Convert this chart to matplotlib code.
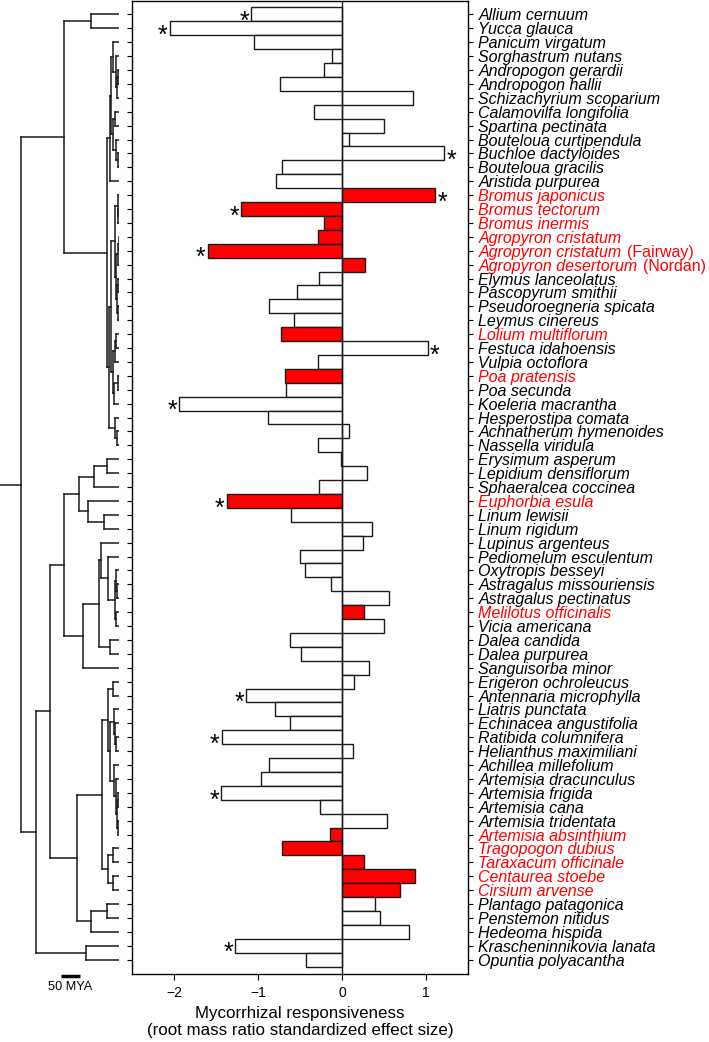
import numpy as np
import matplotlib
matplotlib.use("Agg")
import matplotlib.pyplot as plt

plt.rcParams['font.family'] = ['Liberation Sans', 'DejaVu Sans']

# species, top to bottom
species = [
    "Allium cernuum", "Yucca glauca", "Panicum virgatum", "Sorghastrum nutans",
    "Andropogon gerardii", "Andropogon hallii", "Schizachyrium scoparium",
    "Calamovilfa longifolia", "Spartina pectinata", "Bouteloua curtipendula",
    "Buchloe dactyloides", "Bouteloua gracilis", "Aristida purpurea",
    "Bromus japonicus", "Bromus tectorum", "Bromus inermis", "Agropyron cristatum",
    "Agropyron cristatum", "Agropyron desertorum",
    "Elymus lanceolatus", "Pascopyrum smithii", "Pseudoroegneria spicata",
    "Leymus cinereus", "Lolium multiflorum", "Festuca idahoensis", "Vulpia octoflora",
    "Poa pratensis", "Poa secunda", "Koeleria macrantha", "Hesperostipa comata",
    "Achnatherum hymenoides", "Nassella viridula", "Erysimum asperum",
    "Lepidium densiflorum", "Sphaeralcea coccinea", "Euphorbia esula",
    "Linum lewisii", "Linum rigidum", "Lupinus argenteus", "Pediomelum esculentum",
    "Oxytropis besseyi", "Astragalus missouriensis", "Astragalus pectinatus",
    "Melilotus officinalis", "Vicia americana", "Dalea candida", "Dalea purpurea",
    "Sanguisorba minor", "Erigeron ochroleucus", "Antennaria microphylla",
    "Liatris punctata", "Echinacea angustifolia", "Ratibida columnifera",
    "Helianthus maximiliani", "Achillea millefolium", "Artemisia dracunculus",
    "Artemisia frigida", "Artemisia cana", "Artemisia tridentata",
    "Artemisia absinthium", "Tragopogon dubius", "Taraxacum officinale",
    "Centaurea stoebe", "Cirsium arvense", "Plantago patagonica",
    "Penstemon nitidus", "Hedeoma hispida", "Krascheninnikovia lanata",
    "Opuntia polyacantha",
]
# cultivar names written upright after the species name
cultivars = {17: "(Fairway)", 18: "(Nordan)"}

# mycorrhizal responsiveness (standardized effect size)
responsiveness = [
    -1.08, -2.05, -1.05, -0.12, -0.21, -0.74, 0.84, -0.33, 0.50, 0.08, 1.22, -0.72, -0.79,
    1.11, -1.20, -0.22, -0.28, -1.60, 0.27, -0.27, -0.53, -0.87, -0.57, -0.73, 1.02, -0.29, -0.68,
    -0.67, -1.94, -0.88, 0.08, -0.29, -0.01, 0.30, -0.27, -1.37, -0.61, 0.36, 0.25, -0.50, -0.445,
    -0.13, 0.555, 0.26, 0.50, -0.62, -0.49, 0.325, 0.14, -1.14, -0.80, -0.615, -1.43, 0.13, -0.87,
    -0.97, -1.44, -0.26, 0.535, -0.14, -0.72, 0.265, 0.865, 0.69, 0.39, 0.45, 0.80, -1.27, -0.43,
]

# rows (0-based) of invasive species and of significant effects
invasive_rows = [13, 14, 15, 16, 17, 18, 23, 26, 35, 43, 59, 60, 61, 62, 63]
significant_rows = [0, 1, 10, 13, 14, 17, 24, 28, 35, 49, 52, 56, 67]

# phylogeny: tips are row numbers, internal labels are node ages (MYA)
tree_newick = (
    "(((0,1)74,((((2,(3,((4,5)3,6)6)9)18,((7,8)12,(9,(10,11)5)9)16)22,12)24,"
    "((((13,(14,15)3)5,(((16,17)1,18)4,((19,20)3,(21,22)4)6)8)13,"
    "(((23,24)8,25)12,((26,27)5,28)14)18)22,(29,(30,31)6)12)27)34)147,"
    "((((((32,33)32,34)68,(35,(36,37)42)82)108,"
    "(((38,(39,((40,(41,42)6)9,(43,44)9)13)29)50,(45,46)26)53,47)97)145,"
    "((((48,49)18,((50,(51,(52,53)8)12)15,(54,(55,((56,57)3,(58,59)4)6)10)14)24)29,"
    "((60,61)16,(62,63)16)29)45,((64,65)34,66)74)113)184,(67,68)87)221)260"
)
root_stem = 55
scale_bar = 50

red = '#ff0000'
n = len(species)
rows = np.arange(n)
is_red = np.isin(rows, invasive_rows)

fig = plt.figure(figsize=(7.09, 10.42), dpi=100)
ax_top = 1 - 0.5 / 1042
ax_bot = 1 - 973.5 / 1042
ax = fig.add_axes([132 / 709, ax_bot, 336 / 709, ax_top - ax_bot])
axt = fig.add_axes([0, ax_bot, 119.5 / 709, ax_top - ax_bot])

# bars
ax.barh(rows, responsiveness, height=1.0,
        color=np.where(is_red, red, 'white'), edgecolor='#1a1a1a', linewidth=1.0, zorder=2)
ax.axvline(0, color='#1a1a1a', lw=1.0, zorder=3)

for r in significant_rows:
    v = responsiveness[r]
    ax.annotate('*', (v, r), xytext=(-1.5 if v < 0 else 1.5, -10.5), textcoords='offset points',
                ha='right' if v < 0 else 'left', va='baseline', fontsize=18)

ax.set_xlim(-2.5, 1.5)
ax.set_ylim(n, -1)
ax.set_xticks([-2, -1, 0, 1])
ax.tick_params(axis='x', labelsize=10, length=4, pad=5)
ax.set_yticks(rows)
ax.set_yticklabels(species)
ax.tick_params(axis='y', left=True, right=True, labelleft=False, labelright=True,
               length=3.5, pad=4, labelsize=11.5)
for lab, r in zip(ax.get_yticklabels(), rows):
    lab.set_fontstyle('italic')
    lab.set_color(red if is_red[r] else 'black')
    if r in cultivars:
        ax.annotate(cultivars[r], xy=(1, 0), xycoords=lab, xytext=(3.5, 0),
                    textcoords='offset points', ha='left', va='bottom',
                    fontsize=11.5, color=red if is_red[r] else 'black')
ax.set_xlabel("Mycorrhizal responsiveness\n(root mass ratio standardized effect size)",
              fontsize=12.2, labelpad=4)
for s in ax.spines.values():
    s.set_linewidth(1.0)


# phylogeny
def parse(s):
    pos = 0

    def node():
        nonlocal pos
        if s[pos] == '(':
            pos += 1
            kids = [node()]
            while s[pos] == ',':
                pos += 1
                kids.append(node())
            pos += 1
            j = pos
            while pos < len(s) and s[pos] not in ',)':
                pos += 1
            return (float(s[j:pos]), kids)
        j = pos
        while s[pos] not in ',)':
            pos += 1
        return int(s[j:pos])
    return node()


tree_kw = dict(color='#1a1a1a', lw=1.1, solid_capstyle='projecting')


def draw(nd):
    if isinstance(nd, int):
        return nd
    age, kids = nd
    ys = []
    for k in kids:
        yk = draw(k)
        xk = 0 if isinstance(k, int) else -k[0]
        axt.plot([-age, xk], [yk, yk], **tree_kw)
        ys.append(yk)
    axt.plot([-age, -age], [min(ys), max(ys)], **tree_kw)
    return (min(ys) + max(ys)) / 2


tree = parse(tree_newick)
root_y = draw(tree)
axt.plot([-tree[0] - root_stem, -tree[0]], [root_y, root_y], **tree_kw)
axt.set_xlim(-tree[0] - root_stem, 0)
axt.set_ylim(n, -1)
axt.axis('off')

# scale bar
axt.plot([-155, -155 + scale_bar], [n + 0.15, n + 0.15], color='black', lw=2.5, clip_on=False,
         solid_capstyle='butt')
axt.text(-155 + scale_bar / 2, n + 0.55, "50 MYA", ha='center', va='top', fontsize=9.2,
         clip_on=False)

plt.savefig("out.png", dpi=100)
